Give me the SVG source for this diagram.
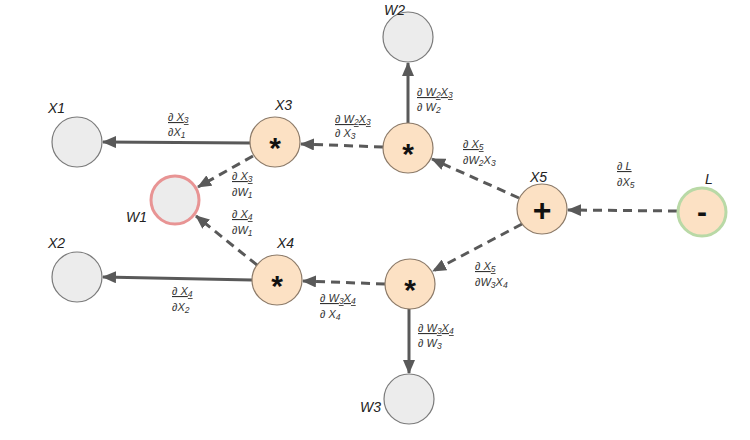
<svg xmlns="http://www.w3.org/2000/svg" width="750" height="440" viewBox="0 0 750 440">
<defs>
<style>
.gray{fill:#ececec;stroke:#7a7a7a;stroke-width:1.2}
.op{fill:#fce1c4;stroke:#8c7a68;stroke-width:1.2}
.w1{fill:#ececec;stroke:#e89494;stroke-width:3}
.loss{fill:#fce1c4;stroke:#b9d9a6;stroke-width:3}
.lbl{font-family:"Liberation Sans",Arial,sans-serif;font-style:italic;font-size:14px;fill:#222}
.sym{font-family:"Liberation Sans",Arial,sans-serif;font-weight:bold;fill:#111;text-anchor:middle}
.fr{font-family:"Liberation Sans",Arial,sans-serif;font-style:italic;font-size:11px;fill:#333}
.num{text-decoration:underline}
.sub{font-size:8.5px}
.solid{stroke:#595959;stroke-width:3;fill:none;marker-end:url(#ah)}
.dash{stroke:#595959;stroke-width:3;fill:none;stroke-dasharray:9 6;marker-end:url(#ah)}
</style>
<marker id="ah" markerUnits="userSpaceOnUse" markerWidth="14" markerHeight="12" refX="13" refY="6" orient="auto">
<path d="M0,0 L14,6 L0,12 z" fill="#595959"/>
</marker>
</defs>
<rect width="750" height="440" fill="#fff"/>

<g id="connectors">
<line class="solid" x1="250" y1="143" x2="103" y2="142"/>
<line class="dash" x1="253" y1="156" x2="198" y2="187"/>
<line class="dash" x1="257" y1="265" x2="196" y2="216"/>
<line class="solid" x1="252" y1="280" x2="103" y2="277"/>
<line class="dash" x1="383" y1="147" x2="301" y2="144"/>
<line class="solid" x1="408" y1="123" x2="408" y2="63"/>
<line class="dash" x1="519" y1="198" x2="432" y2="159"/>
<line class="dash" x1="522" y1="224" x2="433" y2="271"/>
<line class="dash" x1="677" y1="211" x2="568" y2="210"/>
<line class="dash" x1="385" y1="284" x2="303" y2="281"/>
<line class="solid" x1="409" y1="309" x2="409" y2="373"/>
</g>

<g id="X1"><circle class="gray" cx="77" cy="142" r="25"/><text class="lbl" x="48" y="113">X1</text></g>
<g id="X2"><circle class="gray" cx="77" cy="277" r="25"/><text class="lbl" x="48" y="248">X2</text></g>
<g id="W1"><circle class="w1" cx="175" cy="200" r="24"/><text class="lbl" x="126" y="222">W1</text></g>
<g id="W2"><circle class="gray" cx="408" cy="37" r="25"/><text class="lbl" x="384" y="15">W2</text></g>
<g id="W3"><circle class="gray" cx="409" cy="399" r="25"/><text class="lbl" x="360" y="412">W3</text></g>
<g id="X3"><circle class="op" cx="275" cy="142" r="25"/><text class="lbl" x="275" y="110">X3</text><text class="sym" x="275" y="158" font-size="30">*</text></g>
<g id="X4"><circle class="op" cx="277" cy="280" r="25"/><text class="lbl" x="277" y="248">X4</text><text class="sym" x="277" y="296" font-size="30">*</text></g>
<g id="M1"><circle class="op" cx="408" cy="148" r="25"/><text class="sym" x="408" y="164" font-size="30">*</text></g>
<g id="M2"><circle class="op" cx="410" cy="284" r="25"/><text class="sym" x="410" y="300" font-size="30">*</text></g>
<g id="X5"><circle class="op" cx="542" cy="209" r="25"/><text class="lbl" x="530" y="182">X5</text><text class="sym" x="542" y="221" font-size="32">+</text></g>
<g id="L"><circle class="loss" cx="702" cy="212" r="24"/><text class="lbl" x="705" y="184">L</text><text class="sym" x="702" y="222" font-size="30">-</text></g>

<g id="labels">
<text class="fr" x="168" y="121"><tspan class="num">∂ X<tspan class="sub" dy="2">3</tspan></tspan><tspan x="168" y="136">∂X<tspan class="sub" dy="2">1</tspan></tspan></text>
<text class="fr" x="335" y="123"><tspan class="num">∂ W<tspan class="sub" dy="2">2</tspan><tspan dy="-2">X</tspan><tspan class="sub" dy="2">3</tspan></tspan><tspan x="335" y="137">∂ X<tspan class="sub" dy="2">3</tspan></tspan></text>
<text class="fr" x="417" y="96"><tspan class="num">∂ W<tspan class="sub" dy="2">2</tspan><tspan dy="-2">X</tspan><tspan class="sub" dy="2">3</tspan></tspan><tspan x="417" y="111">∂ W<tspan class="sub" dy="2">2</tspan></tspan></text>
<text class="fr" x="463" y="148"><tspan class="num">∂ X<tspan class="sub" dy="2">5</tspan></tspan><tspan x="463" y="164">∂W<tspan class="sub" dy="2">2</tspan><tspan dy="-2">X</tspan><tspan class="sub" dy="2">3</tspan></tspan></text>
<text class="fr" x="617" y="170"><tspan class="num">∂ L</tspan><tspan x="617" y="186">∂X<tspan class="sub" dy="2">5</tspan></tspan></text>
<text class="fr" x="232" y="180"><tspan class="num">∂ X<tspan class="sub" dy="2">3</tspan></tspan><tspan x="232" y="196">∂W<tspan class="sub" dy="2">1</tspan></tspan></text>
<text class="fr" x="232" y="218"><tspan class="num">∂ X<tspan class="sub" dy="2">4</tspan></tspan><tspan x="232" y="234">∂W<tspan class="sub" dy="2">1</tspan></tspan></text>
<text class="fr" x="172" y="295"><tspan class="num">∂ X<tspan class="sub" dy="2">4</tspan></tspan><tspan x="172" y="311">∂X<tspan class="sub" dy="2">2</tspan></tspan></text>
<text class="fr" x="320" y="302"><tspan class="num">∂ W<tspan class="sub" dy="2">3</tspan><tspan dy="-2">X</tspan><tspan class="sub" dy="2">4</tspan></tspan><tspan x="320" y="318">∂ X<tspan class="sub" dy="2">4</tspan></tspan></text>
<text class="fr" x="418" y="332"><tspan class="num">∂ W<tspan class="sub" dy="2">3</tspan><tspan dy="-2">X</tspan><tspan class="sub" dy="2">4</tspan></tspan><tspan x="418" y="347">∂ W<tspan class="sub" dy="2">3</tspan></tspan></text>
<text class="fr" x="475" y="270"><tspan class="num">∂ X<tspan class="sub" dy="2">5</tspan></tspan><tspan x="475" y="286">∂W<tspan class="sub" dy="2">3</tspan><tspan dy="-2">X</tspan><tspan class="sub" dy="2">4</tspan></tspan></text>
</g>
</svg>
